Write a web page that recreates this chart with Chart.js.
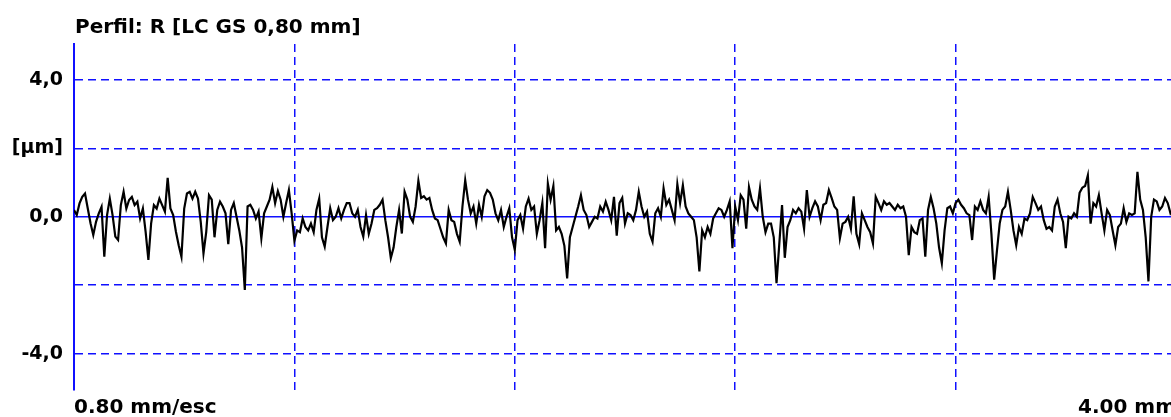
<!DOCTYPE html>
<html>
<head>
<meta charset="utf-8">
<script src="https://cdn.jsdelivr.net/npm/chart.js@4/dist/chart.umd.min.js"></script>
<style>
  html, body { margin: 0; padding: 0; background: #fff; overflow: hidden; }
  #wrap { width: 1200px; height: 417px; position: relative; }
</style>
</head>
<body>
<div id="wrap"><canvas id="chart"></canvas></div>
<script>
// Perfil R, 4,00 mm de comprimento, 0,80 mm por divisao
const titleText = 'Perfil: R [LC GS 0,80 mm]';
const stepLabel = '0.80 mm/esc';
const lengthLabel = '4.00 mm';
const sampleStepMm = 0.01;
const xDivMm = 0.8;
const xMaxMm = 4.0;
const yLimitUm = 5.05;
const yTicksUm = [-4, -2, 0, 2, 4];
const yTickLabels = { '4': '4,0', '2': '[µm]', '0': '0,0', '-2': '', '-4': '-4,0' };

// alturas do perfil (µm), lidas a cada 0,01 mm
const heightUm = [
  0.2, 0.05, 0.39, 0.58, 0.68, 0.24, -0.19, -0.53, -0.15, 0.1,
  0.29, -1.17, 0.05, 0.53, 0.05, -0.58, -0.68, 0.34, 0.73, 0.24,
  0.49, 0.58, 0.34, 0.44, -0.05, 0.24, -0.44, -1.26, -0.19, 0.34,
  0.24, 0.53, 0.34, 0.15, 1.14, 0.24, 0.05, -0.44, -0.83, -1.17,
  0.24, 0.68, 0.73, 0.53, 0.73, 0.53, -0.15, -1.07, -0.44, 0.63,
  0.5, -0.6, 0.2, 0.44, 0.3, 0.1, -0.8, 0.2, 0.4, 0.0,
  -0.4, -0.9, -2.14, 0.3, 0.35, 0.2, -0.05, 0.15, -0.63, 0.1,
  0.3, 0.5, 0.87, 0.4, 0.75, 0.5, 0.0, 0.4, 0.78, 0.1,
  -0.7, -0.4, -0.45, -0.05, -0.3, -0.4, -0.2, -0.45, 0.2, 0.53,
  -0.6, -0.87, -0.3, 0.25, -0.1, 0.0, 0.25, -0.05, 0.2, 0.4,
  0.4, 0.1, 0.0, 0.2, -0.3, -0.58, 0.05, -0.5, -0.2, 0.2,
  0.25, 0.35, 0.5, -0.1, -0.6, -1.21, -0.9, -0.3, 0.2, -0.49,
  0.73, 0.5, 0.0, -0.15, 0.3, 1.05, 0.55, 0.6, 0.5, 0.55,
  0.2, -0.05, -0.1, -0.35, -0.6, -0.78, 0.2, -0.1, -0.15, -0.5,
  -0.73, 0.3, 1.07, 0.5, 0.1, 0.3, -0.2, 0.35, 0.0, 0.6,
  0.78, 0.7, 0.5, 0.1, -0.1, 0.2, -0.3, 0.0, 0.25, -0.6,
  -0.97, -0.1, 0.05, -0.35, 0.3, 0.53, 0.2, 0.3, -0.5, -0.1,
  0.4, -0.92, 0.97, 0.5, 0.9, -0.4, -0.3, -0.5, -0.85, -1.8,
  -0.6, -0.3, 0.0, 0.3, 0.63, 0.2, 0.05, -0.3, -0.15, 0.0,
  -0.05, 0.3, 0.15, 0.44, 0.2, -0.1, 0.58, -0.55, 0.4, 0.55,
  -0.2, 0.1, 0.05, -0.1, 0.2, 0.73, 0.3, 0.0, 0.15, -0.5,
  -0.73, 0.1, 0.25, 0.0, 0.83, 0.35, 0.5, 0.2, -0.1, 0.95,
  0.4, 0.92, 0.3, 0.1, 0.0, -0.1, -0.6, -1.6, -0.4, -0.6,
  -0.3, -0.5, -0.05, 0.1, 0.25, 0.2, 0.0, 0.2, 0.45, -0.92,
  0.3, -0.1, 0.63, 0.5, -0.35, 0.87, 0.5, 0.3, 0.2, 0.83,
  0.0, -0.45, -0.2, -0.2, -0.6, -1.94, -0.8, 0.34, -1.2, -0.3,
  -0.1, 0.2, 0.1, 0.25, 0.15, -0.35, 0.78, 0.0, 0.25, 0.45,
  0.3, -0.1, 0.35, 0.4, 0.78, 0.55, 0.3, 0.2, -0.63, -0.2,
  -0.15, 0.0, -0.35, 0.6, -0.5, -0.8, 0.1, -0.1, -0.3, -0.45,
  -0.78, 0.58, 0.4, 0.2, 0.45, 0.35, 0.4, 0.3, 0.2, 0.35,
  0.25, 0.3, 0.0, -1.12, -0.3, -0.45, -0.5, -0.1, -0.05, -1.17,
  0.2, 0.58, 0.25, -0.2, -0.9, -1.36, -0.4, 0.25, 0.3, 0.1,
  0.4, 0.5, 0.35, 0.25, 0.1, 0.05, -0.68, 0.3, 0.2, 0.45,
  0.2, 0.1, 0.58, -0.5, -1.84, -1.0, -0.2, 0.2, 0.3, 0.73,
  0.2, -0.4, -0.83, -0.3, -0.5, -0.05, -0.1, 0.1, 0.58, 0.4,
  0.2, 0.3, -0.1, -0.35, -0.3, -0.4, 0.3, 0.5, 0.1, -0.15,
  -0.92, 0.0, -0.05, 0.1, 0.0, 0.7, 0.85, 0.9, 1.21, -0.2,
  0.4, 0.3, 0.63, 0.1, -0.4, 0.2, 0.05, -0.4, -0.83, -0.3,
  -0.2, 0.25, -0.15, 0.1, 0.05, 0.1, 1.31, 0.5, 0.2, -0.6,
  -1.89, 0.0, 0.5, 0.45, 0.2, 0.3, 0.55, 0.4, 0.1, 0.2,
  0.1
];

const BLUE = '#1010ff';
const FONT = 'DejaVu Sans';

const profilePoints = heightUm.map((h, i) => ({ x: i * sampleStepMm, y: h }));

const textPlugin = {
  id: 'profileText',
  afterDraw(chart) {
    const { ctx, chartArea: a } = chart;
    ctx.save();
    ctx.fillStyle = '#000';
    ctx.font = 'bold 20px "' + FONT + '"';
    ctx.textAlign = 'left';
    ctx.fillText(titleText, a.left + 1, a.top - 11);
    ctx.fillText(stepLabel, a.left, a.bottom + 23);
    ctx.textAlign = 'right';
    ctx.fillText(lengthLabel, a.right, a.bottom + 23);
    ctx.restore();
  }
};

new Chart(document.getElementById('chart').getContext('2d'), {
  type: 'line',
  data: {
    datasets: [{
      data: profilePoints,
      borderColor: '#000',
      borderWidth: 2.2,
      borderJoinStyle: 'miter',
      pointRadius: 0,
      tension: 0,
      fill: false,
    }],
  },
  options: {
    responsive: true,
    maintainAspectRatio: false,
    animation: false,
    events: [],
    layout: { padding: { left: 0, right: 24, top: 44, bottom: 27.5 } },
    plugins: { legend: { display: false }, tooltip: { enabled: false }, title: { display: false } },
    scales: {
      x: {
        type: 'linear',
        min: 0,
        max: xMaxMm,
        afterFit: (s) => { s.height = 0; },
        ticks: { display: false, stepSize: xDivMm },
        grid: { color: BLUE, lineWidth: 1.5, drawTicks: false },
        border: { display: false, dash: [8, 5] },
      },
      y: {
        min: -yLimitUm,
        max: yLimitUm,
        afterFit: (s) => { s.width = 74; },
        afterBuildTicks: (s) => { s.ticks = yTicksUm.map((v) => ({ value: v })); },
        ticks: {
          color: '#000',
          padding: 11,
          font: { family: FONT, size: 19, weight: 'bold' },
          callback: (v) => yTickLabels[String(v)],
        },
        grid: { color: BLUE, lineWidth: 1.5, drawTicks: false },
        border: {
          display: true,
          color: BLUE,
          width: 2,
          dash: (c) => (c.tick && c.tick.value === 0 ? [] : [8, 5]),
        },
      },
    },
  },
  plugins: [textPlugin],
});
</script>
</body>
</html>
